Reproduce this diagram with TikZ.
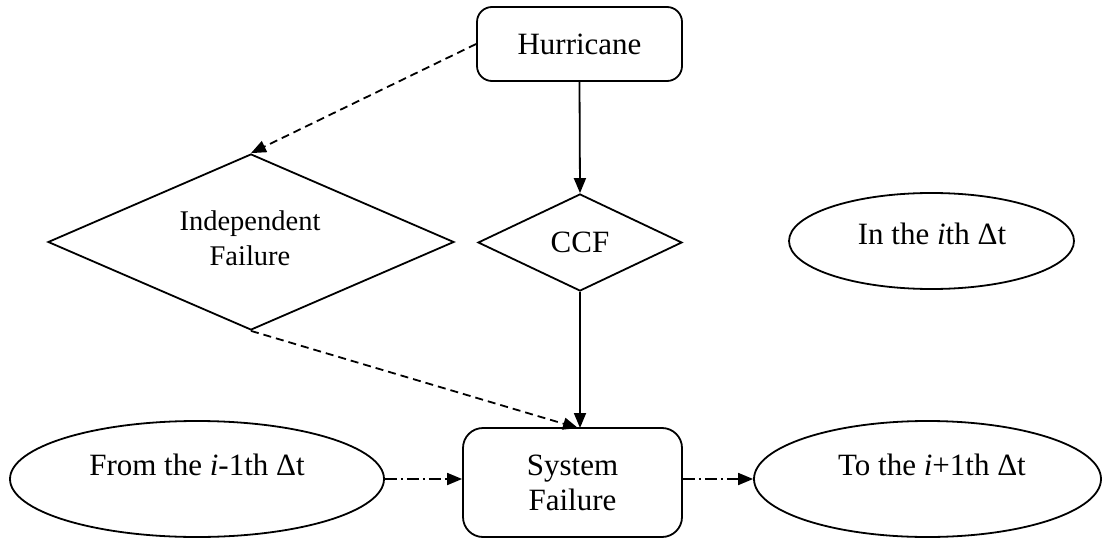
\documentclass[tikz,border=0pt]{standalone}
\usepackage{fontspec}
\setmainfont{Liberation Serif}
\usetikzlibrary{shapes.geometric,arrows.meta,calc}

\tikzset{
  base/.style={draw, line width=1.8pt, inner sep=0pt, align=center,
    font=\fontsize{31}{35}\selectfont},
  roundbox/.style={base, rectangle, rounded corners=#1},
  decision/.style={base, diamond},
  period/.style={base, ellipse},
  caption/.style={inner sep=0pt, align=center, font=\fontsize{31}{35}\selectfont},
  link/.style={line width=1.8pt, -{Triangle[length=15pt,width=12pt]}},
  dashlink/.style={link, dash pattern=on 8pt off 5pt},
  stepline/.style={link, dash pattern=on 12pt off 4pt on 2pt off 4pt},
}

\begin{document}
\begin{tikzpicture}[x=1pt, y=-1pt]
  \useasboundingbox (0,0) rectangle (1102,540);

  % process boxes
  \node[roundbox=15pt, minimum width=205pt, minimum height=74pt] (hur) at (579.5,44) {Hurricane};
  \node[roundbox=20pt, minimum width=219pt, minimum height=109pt] (sys) at (572.5,482.5) {System\\Failure};

  % failure modes
  \node[decision, minimum width=406pt, minimum height=176pt] (ind) at (251,242) {};
  \node[caption, font=\fontsize{28.5}{35}\selectfont] (indtxt) at (250,238) {Independent\\Failure};
  \node[decision, minimum width=204pt, minimum height=97pt] (ccf) at (580,242.5) {CCF};

  % time steps
  \node[period, minimum width=285pt, minimum height=96pt] (cur) at (931.5,241) {};
  \node[caption] (curtxt) at (932,234) {In the \textit{i}th Δt};
  \node[period, minimum width=374pt, minimum height=116pt] (prev) at (197,479) {};
  \node[caption] (prevtxt) at (197,465) {From the \textit{i}-1th Δt};
  \node[period, minimum width=347pt, minimum height=116pt] (next) at (927.5,479) {};
  \node[caption] (nexttxt) at (932,465) {To the \textit{i}+1th Δt};

  % connectors
  \coordinate (sysin) at (578,428);
  \draw[dashlink] (hur.west) -- (ind.north);
  \draw[link] (hur.south) -- (ccf.north);
  \draw[link] (ccf.south) -- (ccf.south |- sysin);
  \draw[dashlink] (ind.south) -- (sysin);
  \draw[stepline] (prev.east) -- (prev.east -| sys.west);
  \draw[stepline] (prev.east -| sys.east) -- (next.west);
\end{tikzpicture}
\end{document}
